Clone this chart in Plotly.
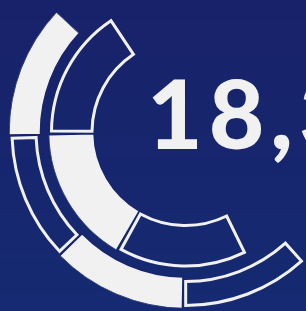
import numpy as np
import plotly.graph_objects as go

# ---------------- data ----------------
outer_ring_spans = [44.0, 43.5, 44.5, 44.0]      # angular span of each outer segment (deg)
outer_ring_filled = [True, False, True, False]   # solid vs outlined segment
outer_ring_start = 137.0                          # angle where the outer ring begins (deg)

inner_ring_spans = [58.8, 58.6, 57.9]
inner_ring_filled = [False, True, False]
inner_ring_start = 122.3

headline = "18,3"

# ---------------- styling / geometry ----------------
W, H = 306, 311
CX, CY = 185.5, 132.0          # centre of the rings (px)
BG_TOP, BG_BOTTOM = "#18226a", "#152a72"
BG_MID = "#16266e"
WHITE = "#f1f1f1"

OUTER_SLOT, OUTER_PATH, OUTER_R = (145.0, 176.5), (149.5, 173.5), 176.5
INNER_SLOT, INNER_PATH, INNER_R = (91.5, 137.0), (93.5, 134.0), 137.0


def sector_bbox(s0, s1):
    arc = s1 - s0
    a0 = s0 % 360
    a1 = a0 + arc
    ax0, ay0 = np.cos(np.radians(a0)), np.sin(np.radians(a0))
    ax1, ay1 = np.cos(np.radians(a1)), np.sin(np.radians(a1))
    if (a0 <= 90 <= a1) or (a0 > 90 and a1 >= 450):
        y1 = 1
    elif ay0 <= 0 and ay1 <= 0:
        y1 = 0
    else:
        y1 = max(ay0, ay1)
    if (a0 <= 180 <= a1) or (a0 > 180 and a1 >= 540):
        x0 = -1
    elif ax0 >= 0 and ax1 >= 0:
        x0 = 0
    else:
        x0 = min(ax0, ax1)
    if (a0 <= 270 <= a1) or (a0 > 270 and a1 >= 630):
        y0 = -1
    elif ay0 >= 0 and ay1 >= 0:
        y0 = 0
    else:
        y0 = min(ay0, ay1)
    if a1 >= 360:
        x1 = 1
    elif ax0 <= 0 and ax1 <= 0:
        x1 = 0
    else:
        x1 = max(ax0, ax1)
    return x0, y0, x1, y1


def polar_domain(sector, R):
    x0, y0, x1, y1 = sector_bbox(*sector)
    left, right = CX + x0 * R, CX + x1 * R
    top, bottom = CY - y1 * R, CY - y0 * R
    dx = [max(0, left / W), min(1, right / W)]
    dy = [max(0, (H - bottom) / H), min(1, (H - top) / H)]
    return dict(x=dx, y=dy)


def ring(spans, filled, start, slot, path, subplot):
    spans = np.asarray(spans, float)
    filled = np.asarray(filled, bool)
    ends = start + np.cumsum(spans)
    begins = ends - spans
    mids = (begins + ends) / 2
    r_mid = (path[0] + path[1]) / 2
    inset = np.degrees(3.0 / r_mid)
    out = []
    if filled.any():
        out.append(go.Barpolar(
            theta=mids[filled], width=spans[filled],
            base=slot[0], r=[slot[1] - slot[0]] * int(filled.sum()),
            marker=dict(color=WHITE, line=dict(color=BG_MID, width=1.5)),
            subplot=subplot, hoverinfo="skip", showlegend=False))
    if (~filled).any():
        out.append(go.Barpolar(
            theta=mids[~filled], width=spans[~filled] - 2 * inset,
            base=path[0], r=[path[1] - path[0]] * int((~filled).sum()),
            marker=dict(color="rgba(0,0,0,0)", line=dict(color=WHITE, width=3)),
            subplot=subplot, hoverinfo="skip", showlegend=False))
    sector = [float(start), float(start + spans.sum())]
    return out, sector


fig = go.Figure()

# background gradient
fig.add_trace(go.Heatmap(z=[[0, 0], [1, 1]], x=[0, 1], y=[0, 1],
                         colorscale=[[0, BG_BOTTOM], [1, BG_TOP]],
                         zsmooth="best", showscale=False, hoverinfo="skip"))

tr_o, sec_o = ring(outer_ring_spans, outer_ring_filled, outer_ring_start,
                   OUTER_SLOT, OUTER_PATH, "polar")
tr_i, sec_i = ring(inner_ring_spans, inner_ring_filled, inner_ring_start,
                   INNER_SLOT, INNER_PATH, "polar2")
for t in tr_o + tr_i:
    fig.add_trace(t)

polar_common = dict(bgcolor="rgba(0,0,0,0)",
                    angularaxis=dict(visible=False, direction="counterclockwise", rotation=0,
                                     showgrid=False, showline=False, showticklabels=False, ticks=""),
                    hole=0)

# slight tracking between glyphs (hair spaces)
headline_text = "\u200a".join(headline)

fig.update_layout(
    width=W, height=H,
    margin=dict(l=0, r=0, t=0, b=0, pad=0),
    paper_bgcolor=BG_MID, plot_bgcolor=BG_MID,
    xaxis=dict(visible=False, range=[0, 1], domain=[0, 1], fixedrange=True),
    yaxis=dict(visible=False, range=[0, 1], domain=[0, 1], fixedrange=True),
    polar=dict(**polar_common, sector=sec_o, domain=polar_domain(sec_o, OUTER_R),
               radialaxis=dict(visible=False, range=[0, OUTER_R], showgrid=False)),
    polar2=dict(**polar_common, sector=sec_i, domain=polar_domain(sec_i, INNER_R),
                radialaxis=dict(visible=False, range=[0, INNER_R], showgrid=False)),
    showlegend=False,
    annotations=[dict(text=headline_text, xref="paper", yref="paper",
                      x=145 / W, y=(H - 111) / H, xanchor="left", yanchor="middle",
                      showarrow=False,
                      font=dict(family="Lato", size=96, weight=900, color=WHITE))],
)

fig.write_html("out.html", config={"displayModeBar": False},
               post_script="document.body.style.margin='0';document.body.style.overflow='hidden';")
